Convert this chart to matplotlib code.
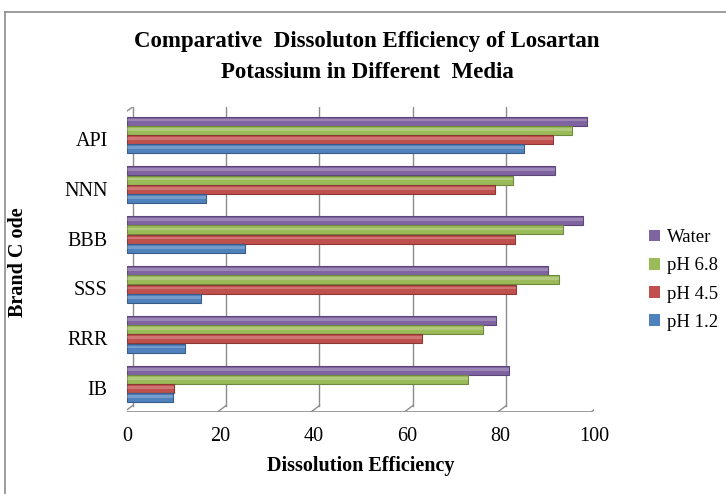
import numpy as np
import matplotlib.pyplot as plt
from matplotlib.patches import Patch
from matplotlib.lines import Line2D
import matplotlib.transforms as mtransforms

plt.rcParams['font.family'] = ['Liberation Serif', 'DejaVu Serif']

# данные
brands = ['IB', 'RRR', 'SSS', 'BBB', 'NNN', 'API']
water = [81.9, 79.0, 90.1, 97.7, 91.7, 98.4]
ph68 = [73.1, 76.2, 92.4, 93.3, 82.7, 95.3]
ph45 = [10.1, 63.1, 83.3, 83.1, 78.8, 91.3]
ph12 = [9.9, 12.5, 15.8, 25.3, 16.9, 85.1]
x_ticks = [0, 20, 40, 60, 80, 100]

series = [('Water', water, '#8064A2', '#5C4776'),
          ('pH 6.8', ph68, '#9BBB59', '#71893F'),
          ('pH 4.5', ph45, '#C0504D', '#8C3836'),
          ('pH 1.2', ph12, '#4F81BD', '#385D8A')]

fig = plt.figure(figsize=(7.26, 4.94), dpi=100)
ax = fig.add_axes([127/726, 1-412/494, (594-127)/726, (412-107)/494])

y = np.arange(len(brands))
step = 0.185
h = 0.18
offsets = [1.5*step, 0.5*step, -0.5*step, -1.5*step]

# стенки и сетка (имитация 3D)
tr = mtransforms.blended_transform_factory(ax.transData, ax.transAxes)
dx = 1.2
back = 0.021
for xv in x_ticks:
    ax.plot([xv+dx, xv+dx], [back, 1], color='#8C8C8C', lw=1, transform=tr, zorder=1)
    ax.plot([xv+dx, xv-0.6], [back, 0], color='#8C8C8C', lw=1, transform=tr, zorder=1)
ax.plot([-0.6, 100-0.6], [0, 0], color='#8C8C8C', lw=1.2, transform=tr, zorder=1)
ax.plot([-0.6, -0.6], [0, 0.98], color='#8C8C8C', lw=1, transform=tr, zorder=1)
ax.plot([-0.6, dx], [0.98, 1], color='#8C8C8C', lw=1, transform=tr, zorder=1)

for (name, vals, col, dark), off in zip(series, offsets):
    ax.barh(y + off, vals, height=h, color=col, edgecolor=dark, linewidth=0.8, zorder=3)
    # блик
    ax.barh(y + off + h*0.12, vals, height=h*0.3, color='white', alpha=0.22, linewidth=0, zorder=4)

ax.set_xlim(0, 100)
ax.set_ylim(-0.56, 5.56)
for s in ax.spines.values():
    s.set_visible(False)
ax.set_xticks(x_ticks)
ax.set_yticks(y)
ax.set_yticklabels(brands)
ax.tick_params(axis='both', length=0, labelsize=14.5)
ax.tick_params(axis='x', pad=11)
ax.tick_params(axis='y', pad=14)
off_lbl = mtransforms.ScaledTranslation(0, -4/100, fig.dpi_scale_trans)
for lbl in ax.get_yticklabels():
    lbl.set_transform(lbl.get_transform() + off_lbl)

ax.set_xlabel('Dissolution Efficiency', fontsize=14.5, fontweight='bold', labelpad=7)
fig.text(18/726, 1-262/494, 'Brand C ode', rotation=90, fontsize=14.5,
         fontweight='bold', ha='center', va='center')

fig.text(367/726, 1-41/494, 'Comparative  Dissoluton Efficiency of Losartan',
         fontsize=16.5, fontweight='bold', ha='center', va='center')
fig.text(367/726, 1-73/494, 'Potassium in Different  Media',
         fontsize=16.5, fontweight='bold', ha='center', va='center')

# рамка
fig.add_artist(Line2D([5/726, 5/726], [0, 1-12/494], color='#8C8C8C', lw=1.2,
                      transform=fig.transFigure))
fig.add_artist(Line2D([5/726, 1], [1-12/494, 1-12/494], color='#8C8C8C', lw=1.2,
                      transform=fig.transFigure))

handles = [Patch(facecolor=c, edgecolor='none', label=n) for n, v, c, d in series]
fig.legend(handles=handles, loc='center left', bbox_to_anchor=(649/726, 1-280/494),
           frameon=False, fontsize=13.5, handlelength=0.6, handleheight=0.6,
           handletextpad=0.35, labelspacing=0.6, borderpad=0, borderaxespad=0)

fig.savefig('out.png', dpi=100)
